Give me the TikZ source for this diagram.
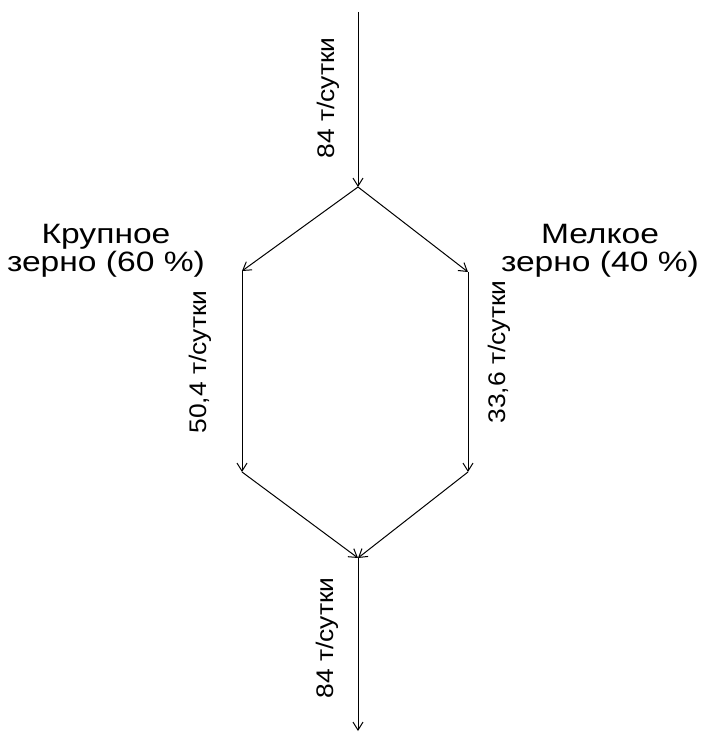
\documentclass[tikz,border=0pt]{standalone}
\usepackage{fontspec}
\setmainfont{Liberation Sans}
\newfontfamily\ratefont[FakeStretch=1.1]{Liberation Sans}
\newfontfamily\grainfont[FakeStretch=1.2]{Liberation Sans}
\usetikzlibrary {arrows.meta, positioning}

\begin{document}
\begin{tikzpicture}[x=0.5pt,y=-0.5pt,>={Straight Barb[length=4pt,width=5pt]},
      flow/.style={->,line width=0.5pt},
      rate/.style={rotate=90,inner sep=0pt,font=\ratefont\fontsize{12}{12}\selectfont},
      grain/.style={align=center,inner sep=0pt,font=\grainfont\fontsize{14}{14}\selectfont}]
      \useasboundingbox (0,0) rectangle (702,733);
      \coordinate (in)    at (358,12);
      \coordinate (split) at (358,187);
      \coordinate (l_1)   at (242,271);
      \coordinate (r_1)   at (468,272);
      \coordinate (l_2)   at (242,472);
      \coordinate (r_2)   at (468,472);
      \coordinate (merge) at (358,558);
      \coordinate (out)   at (358,731);
      \path[flow]
      (in) edge (split)
      (split) edge (l_1)
      (split) edge (r_1)
      (l_1) edge (l_2)
      (r_1) edge (r_2)
      (l_2) edge (merge)
      (r_2) edge (merge)
      (merge) edge (out);
      \node[rate] (q_in)  at (328,98)  {84 т/сутки};
      \node[rate] (q_l)   at (200,362) {50,4 т/сутки};
      \node[rate] (q_r)   at (499,352) {33,6 т/сутки};
      \node[rate] (q_out) at (327,638) {84 т/сутки};
      \node[grain] (coarse) at (106,251) {Крупное\\зерно (60 \%)};
      \node[grain] (fine)   at (600,251) {Мелкое\\зерно (40 \%)};
    \end{tikzpicture}
\end{document}
